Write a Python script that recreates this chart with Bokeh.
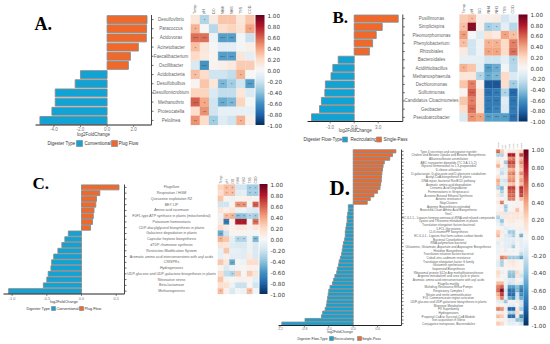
from bokeh.embed import file_html
from bokeh.resources import INLINE
from bokeh.plotting import figure
from bokeh.models import (ColumnDataSource, Range1d, FixedTicker, NumeralTickFormatter,
                          LinearColorMapper, ColorBar)
from bokeh.core.properties import value
from bokeh.transform import transform
from bokeh.palettes import RdBu
import numpy as np

columns_env = ["Temp", "pH", "DO", "NH4", "NH3", "TSS", "COD"]

a_cats = ["Desulfovibrio", "Paracoccus", "Acidovorax", "Acinetobacter", "Faecalibacterium", "Oscillibacter",
          "Acidobacteria", "Desulfobulbus", "Desulfomicrobium", "Methanothrix", "Proteocatella", "Pelolinea"]
a_fold = [3.0, 2.97, 2.95, 2.35, 1.75, 1.6, -2.0, -2.4, -3.9, -3.9, -4.15, -5.05]
a_heat = [[.12, -.3, .08, .28, .28, .12, .28],
          [.35, 0, -.28, .18, .22, .15, .4],
          [.55, .55, -.05, -.55, -.55, -.03, -.22],
          [.3, .12, -.02, -.1, -.1, -.03, .06],
          [.2, .1, .03, -.55, -.55, .12, -.1],
          [-.15, -.6, .03, .06, .1, .25, .25],
          [.3, .18, -.2, -.2, -.25, .35, 0],
          [.03, .28, .12, -.45, -.35, -.2, -.55],
          [.22, .22, -.15, -.25, -.25, .12, -.15],
          [.6, .38, -.2, -.5, -.45, .22, -.03],
          [.18, .45, -.2, -.08, -.08, -.08, -.08],
          [.45, .18, -.35, -.12, -.2, .35, .06]]

b_cats = ["Pusillimonas", "Simplicispira", "Pleomorphomonas", "Phenylobacterium", "Rhizobiales", "Bacteroidales",
          "Acidithiobacillus", "Methanosphaerula", "Dechloromonas", "Sulfurimonas", "Candidatus Cloacimonetes",
          "Geobacter", "Pseudoarcobacter"]
b_fold = [5.5, 3.5, 2.75, 2.3, 1.9, -2.0, -2.67, -2.9, -3.6, -3.67, -4.1, -4.33, -5.33]
b_heat = [[.25, .3, .04, .06, .08, -.18, -.08],
          [.3, .9, .04, -.35, -.3, -.1, -.28],
          [.42, 0, -.12, .15, .08, .4, .3],
          [.3, -.2, -.05, .35, .35, .2, .5],
          [.1, -.2, -.05, .4, .4, .2, .55],
          [-.08, -.08, -.08, -.2, -.2, -.1, -.3],
          [.35, .28, -.1, -.55, -.5, -.03, -.28],
          [.12, .12, -.3, -.5, -.45, .2, -.15],
          [.28, .5, .05, -.85, -.85, .18, -.35],
          [.03, .6, .15, -.75, -.7, -.3, -.78],
          [.28, .5, .15, -.7, -.7, -.12, -.72],
          [.18, .55, .15, -.7, -.65, -.15, -.7],
          [-.15, .45, .4, -.55, -.55, -.55, -.75]]

c_cats = ["Flagellum", "Respiration / HGM", "Queuosine explotation RZ", "BEY LIP", "Amino acid racemase",
          "F0F1-type ATP synthase in plants (mitochondrial)", "Potassium homeostasis",
          "CDP-diacylglycerol biosynthesis in plants", "Galactose degradation in plants",
          "Capsular heptose biosynthesis", "dTDP-rhamnose synthesis", "Restriction-Modification System",
          "Aromatic amino acid interconversions with aryl acids", "CRISPRs", "Hydrogenases",
          "UDP-glucose and UDP-galactose biosynthesis in plants", "Nitrosative stress", "Beta-lactamase",
          "Methanogenesis"]
c_fold = [.54, .264, .216, .206, .18, .17, .158, .13, -.19, -.24, -.283, -.34, -.40, -.43, -.44, -.48, -.50, -.55, -1.05]
c_heat = [[.22, .3, .3, -.18, -.18, -.35, -.35],
          [.18, .3, .3, -.12, -.1, -.35, -.35],
          [.28, .03, -.05, .03, .03, .05, .03],
          [-.2, -.2, .03, .45, .45, -.03, .6],
          [.12, .05, .12, -.05, -.05, -.12, -.15],
          [-.05, .32, .35, -.42, -.4, -.3, -.35],
          [.08, -.7, .03, .8, .8, -.03, .55],
          [.18, .1, .03, .08, .1, .05, .12],
          [-.5, -.2, .03, .03, .03, -.03, -.03],
          [.35, .28, -.1, -.3, -.3, -.05, -.45],
          [.15, .12, -.12, -.15, -.15, -.05, -.15],
          [-.08, .28, -.08, -.1, -.12, -.05, -.15],
          [-.08, .05, -.1, -.1, -.12, .08, -.15],
          [.28, .12, -.5, .02, -.05, .18, .18],
          [.03, -.15, -.05, -.03, .02, .05, .05],
          [.18, -.25, -.3, .25, -.03, .25, .12],
          [.28, .05, -.02, .04, .05, .03, -.1],
          [.15, .15, -.05, -.22, -.22, .02, -.2],
          [.32, .05, -.15, -.03, -.05, .32, -.03]]

d_cats = ["Type 4 secretion and conjugative transfer", "Choline and Betaine Uptake and Betaine Biosynthesis",
          "Alkanesulfonate assimilation", "ABC transporter dipeptide (TC 3.A.1.5.2)",
          "Glycerol fermentation to 1,3-propanediol", "D-ribose utilization",
          "D-galactarate, D-glucarate and D-glycerate catabolism", "Acetyl-CoA biosynthesis in plants",
          "DNA repair, bacterial RecBCD pathway", "Aromatic amino acid degradation", "Cinnamic Acid Degradation",
          "Fermentations in Streptococci", "Acetone Butanol Ethanol Synthesis", "Arsenic resistance", "NiapClusters",
          "Arginine Biosynthesis extended", "Branched-Chain Amino Acid Biosynthesis", "YeeC",
          "EC 6.1.1.- Ligases forming aminoacyl-tRNA and related compounds", "Lysine and Threonine metabolism in plants",
          "Translation elongation factors bacterial", "5-FCL-like protein", "CLG-triamerPP biosynthesis",
          "EC 6.4.1.- Ligases that form carbon-carbon bonds", "Bacterial Cytoskeleton", "RNA polymerase bacterial",
          "Glutamine, Glutamate, Aspartate and Asparagine Biosynthesis", "Histidine Biosynthesis",
          "Translation initiation factors bacterial", "Cobalt-zinc-cadmium resistance",
          "Translation elongation factor G family", "Glutamine synthetases", "Isoprenoid Biosynthesis",
          "Ribosomal protein S12p Asp methylthiotransferase", "Arginine metabolism and urea cycle in plants",
          "Aromatic amino acid interconversions with aryl acids", "Flagella motility",
          "Multidrug Resistance Efflux Pumps", "Respiratory Complex I", "Nitrate and nitrite ammonification",
          "FOL Commensurate region activation", "UDP-glucose and UDP-galactose biosynthesis in plants",
          "Mannose Metabolism", "PII Superfamily", "Hydrogenases", "Propionyl-CoA to Succinyl-CoA Module",
          "Iron acquisition in Vibrio", "Conjugative transposon, Bacteroidales"]
d_fold = [.70, .645, .60, .51, .49, .48, .47, .465, .46, .45, .44, .40, .34, .28, .23,
          -.08, -.08, -.09, -.10, -.10, -.11, -.12, -.13, -.13, -.14, -.16, -.17, -.18, -.19, -.21, -.23, -.24,
          -.26, -.27, -.30, -.32, -.34, -.38, -.40, -.41, -.42, -.43, -.44, -.46, -.50, -.52, -.79, -1.17]
d_heat = [[.55, .25, .03, .08, .08, .1, .2], [-.3, -.3, .05, .8, .8, .1, .65], [.05, .05, .02, .45, .5, .1, .3],
          [.15, 0, -.35, .65, .65, .1, .45], [.35, .05, -.12, .55, .55, .05, .35], [.05, -.15, -.1, .3, .35, .05, .25],
          [0, -.25, -.1, .45, .5, .1, .45], [.15, -.05, .05, .4, .4, .1, .3], [.35, -.15, -.2, .45, .45, .05, .4],
          [.3, -.1, -.1, .25, .3, .05, .3], [-.3, -.45, .05, .7, .7, .15, .75], [.05, -.3, .05, .6, .6, .05, .7],
          [.1, -.2, .05, .55, .55, .05, .65], [.03, 0, -.05, .5, .5, .05, .3], [.1, .5, .03, 0, -.03, .05, .05],
          [0, .05, -.35, -.03, .05, .05, .05], [-.02, .03, -.3, -.03, .05, .3, .05], [.1, .12, -.12, .12, .12, .12, .1],
          [-.3, -.1, .12, .1, .1, .12, .1], [-.12, -.4, .05, .1, .1, .05, .05], [-.05, -.2, .03, .05, .05, .03, .03],
          [.02, .03, -.1, -.05, -.05, .05, -.05], [.25, .1, -.05, -.35, -.35, .03, -.05], [.3, .05, -.12, -.2, -.3, .05, -.45],
          [.05, -.05, -.1, -.1, -.1, -.05, -.1], [-.12, -.03, -.1, -.1, -.15, .03, -.1], [-.05, .05, -.1, -.12, -.3, .03, -.1],
          [-.05, .03, -.1, .03, -.05, .03, -.1], [-.05, .05, .05, .05, -.03, .03, -.25], [.05, .5, .42, -.35, -.35, -.35, -.5],
          [-.1, -.3, .03, .1, .12, .05, .03], [-.12, -.3, .05, .05, .1, .05, .03], [.05, .02, .02, .05, .05, .03, .03],
          [.2, -.08, .03, -.35, -.35, .2, -.08], [.15, -.03, .03, -.42, -.42, .12, -.2], [.03, .02, -.05, -.12, -.15, .05, -.05],
          [.3, .32, -.05, -.2, -.15, .08, -.15], [.5, .6, -.1, -.55, -.55, -.42, -.6], [.55, .9, -.2, -.75, -.7, -.42, -.7],
          [.35, .7, -.15, -.75, -.75, -.2, -.6], [.25, .5, -.1, -.5, -.6, -.2, -.5], [-.1, -.12, -.35, .05, -.05, .1, -.2],
          [.05, .02, .05, -.1, -.1, .02, -.2], [.5, .45, -.1, -.8, -.8, .1, -.35], [-.05, .1, .05, -.3, -.3, .2, -.1],
          [.3, .25, -.05, -.75, -.75, .1, -.6], [.05, .05, .05, -.15, -.15, -.4, -.4], [.25, .2, .02, -.1, -.1, -.05, -.2]]

type_names = ("Digester Type", "Conventional", "Plug Flow")
flow_names = ("Digester Flow-Type", "Recirculating", "Single-Pass")
axis_title = "log2FoldChange"
a_ticks = [-4, -2, 0, 2]
b_ticks = [-3, 0, 3]
c_ticks = [-1, -.5, 0, .5]
d_ticks = [-1.2, -.8, -.4, 0, .4]
cb_ticks = [round(-1 + .2 * i, 1) for i in range(11)]

BLUE, ORANGE = "#0fa3d6", "#f0692a"
SANS = "Liberation Sans"
W, H = 550, 344

hexes = list(RdBu[11])
rgb = np.array([[int(h[i:i + 2], 16) for i in (1, 3, 5)] for h in hexes], float)
pos = np.linspace(0, 1, 11)
palette = ["#%02x%02x%02x" % tuple(int(round(np.interp(t, pos, rgb[:, k]))) for k in range(3))
           for t in np.linspace(0, 1, 256)]
mapper = LinearColorMapper(palette=palette, low=-1, high=1)

p = figure(width=W, height=H, output_backend="svg", toolbar_location=None, x_range=Range1d(0, W), y_range=Range1d(H, 0),
           min_border_left=0, min_border_right=0, min_border_top=0, min_border_bottom=0)
p.axis.visible = False
p.grid.visible = False
p.outline_line_color = None


def txt(x, y, s, size, color="#444444", align="center", baseline="middle", font=SANS, **kw):
    p.text(x=x, y=y, text=s, text_align=align, text_baseline=baseline, text_font=value(font),
           text_font_size=value(f"{size}px"), text_color=color, **kw)


def panel(key, letter, lx, ly, lsize, cats, fold, heat, ticks, names, zero, scale, bx, ax_r, top, bot,
          hx, hr, cbx, cbw, lab_x, tick_dy, title_dy, leg_y, leg_x, swatch, tick_size, lab_size, hdr_size, star_size):
    """All geometry in picture pixels. zero/scale place the fold change axis; each part gets its own range."""
    n = len(cats)
    cell = (bot - top) / n
    cw = (hr - hx) / 7
    rows = list(range(n))
    p.extra_x_ranges[key + "b"] = Range1d(-zero / scale, (W - zero) / scale)
    p.extra_x_ranges[key + "h"] = Range1d(-hx / cw - .5, (W - hx) / cw - .5)
    p.extra_y_ranges[key + "y"] = Range1d((H - top) / cell - .5, -top / cell - .5)
    xb, xh, yr = key + "b", key + "h", key + "y"

    # diverging bars
    neg = ColumnDataSource({"y": [i for i, v in zip(rows, fold) if v < 0], "v": [v for v in fold if v < 0]})
    posi = ColumnDataSource({"y": [i for i, v in zip(rows, fold) if v > 0], "v": [v for v in fold if v > 0]})
    for src, col in ((neg, BLUE), (posi, ORANGE)):
        p.hbar(y="y", left=0, right="v", height=.86, source=src, fill_color=col, line_color="#8a8a8a", line_width=.9,
               x_range_name=xb, y_range_name=yr)

    # axes
    p.segment(x0=[bx], x1=[ax_r], y0=[bot], y1=[bot], line_color="#222222", line_width=1)
    p.segment(x0=[ax_r], x1=[ax_r], y0=[top], y1=[bot], line_color="#444444", line_width=1)
    p.segment(x0=[ax_r] * n, x1=[ax_r + 2] * n, y0=rows, y1=rows, line_color="#444444", line_width=.8, y_range_name=yr)
    p.segment(x0=ticks, x1=ticks, y0=[bot] * len(ticks), y1=[bot + 2] * len(ticks), line_color="#555555",
              line_width=.7, x_range_name=xb)
    txt(ticks, [bot + tick_dy] * len(ticks), [f"{t:.1f}" for t in ticks], tick_size, "#777777", x_range_name=xb)
    txt([(bx + ax_r) / 2], [bot + title_dy], [axis_title], tick_size)

    # legend
    txt([leg_x[0]], [leg_y], [names[0]], tick_size, "#333333", align="left")
    p.rect(x=[leg_x[1]], y=[leg_y], width=swatch, height=swatch, fill_color=BLUE, line_color="#8a8a8a", line_width=.7)
    txt([leg_x[2]], [leg_y], [names[1]], tick_size, "#333333", align="left")
    p.rect(x=[leg_x[3]], y=[leg_y], width=swatch, height=swatch, fill_color=ORANGE, line_color="#8a8a8a", line_width=.7)
    txt([leg_x[4]], [leg_y], [names[2]], tick_size, "#333333", align="left")

    # centred category labels
    txt([lab_x] * n, rows, cats, lab_size, "#666666", y_range_name=yr)

    # heat map with significance stars
    xs, ys, vs, sx, sy, st = [], [], [], [], [], []
    for i, row in enumerate(heat):
        for j, v in enumerate(row):
            xs.append(j)
            ys.append(i)
            vs.append(v)
            a = abs(v)
            s = "***" if a >= .55 else "**" if a >= .42 else "*" if a >= .3 else ""
            if s:
                sx.append(j)
                sy.append(i)
                st.append(s)
    src = ColumnDataSource({"x": xs, "y": ys, "v": vs})
    p.rect(x="x", y="y", width=1, height=1, source=src, fill_color=transform("v", mapper),
           line_color=transform("v", mapper), line_width=.2, x_range_name=xh, y_range_name=yr)
    txt(sx, sy, st, star_size, "#444444", x_range_name=xh, y_range_name=yr, y_offset=1)
    txt(list(range(7)), [top - 1] * 7, columns_env, hdr_size, "#666666", align="left",
        angle=np.pi / 2, x_range_name=xh)

    cb = ColorBar(color_mapper=mapper, ticker=FixedTicker(ticks=cb_ticks),
                  formatter=NumeralTickFormatter(format="0.00"), width=cbw, height=int(round(bot - top)),
                  location=(cbx, H - bot), padding=0, margin=0,
                  major_label_text_font="DejaVu Sans", major_label_text_font_size="5.6px",
                  major_label_text_color="#333333", major_tick_line_color=None, minor_tick_line_color=None,
                  bar_line_color=None, label_standoff=3, border_line_color=None, background_fill_color=None)
    p.add_layout(cb)

    txt([lx], [ly], [letter], lsize, "black", align="left", baseline="alphabetic", font="Liberation Serif",
        text_font_style="bold")


panel("a", "A.", 34, 23, 18, a_cats, a_fold, a_heat, a_ticks, type_names, 106.6, 13.3, 35, 151, 14.5, 124.5,
      190.3, 254, 255, 9, 170.5, 3.8, 9, 143, (47, 79, 84, 114, 118), 6, 4.5, 4.5, 3.8, 4)
panel("b", "B.", 332, 17, 17, b_cats, b_fold, b_heat, b_ticks, flow_names, 353.7, 8, 307, 402.3, 14, 121,
      459, 517, 518, 9, 431, 5, 9, 139, (303, 344.5, 350, 378.5, 383), 5, 4.5, 4.5, 3.8, 3.6)
panel("c", "C.", 32, 183, 17, c_cats, c_fold, c_heat, c_ticks, type_names, 81, 69.4, 3, 124, 184, 293.5,
      217.3, 258, 259, 8, 171, 4, 7.5, 308, (26, 53, 56, 81, 84), 4, 3.8, 3.6, 3.2, 3.2)
panel("d", "D.", 329, 187, 21, d_cats, d_fold, d_heat, d_ticks, flow_names, 352.7, 61, 278, 401, 149, 325,
      495.7, 522.7, 523, 5, 448, 3, 6.2, 338, (297, 331, 333.5, 359, 361.5), 4, 3.5, 3.1, 2.5, 2.4)

open("out.html", "w").write(file_html(p, INLINE))
